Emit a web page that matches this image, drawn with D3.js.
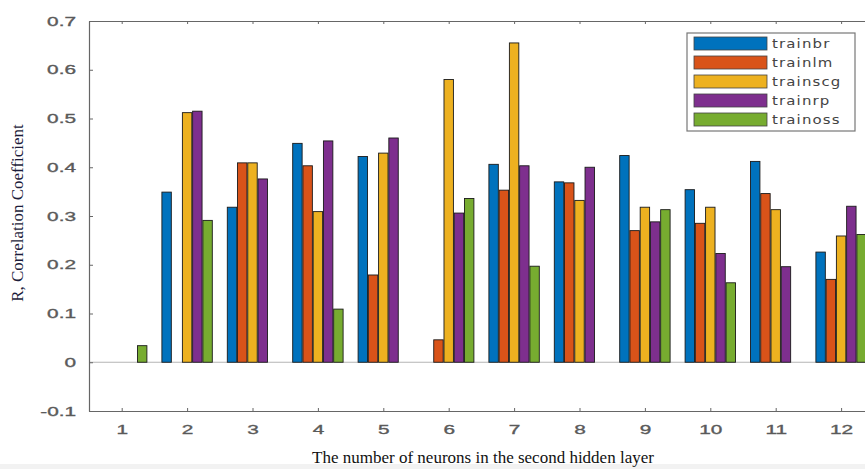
<!DOCTYPE html>
<html>
<head>
<meta charset="utf-8">
<script src="https://cdn.jsdelivr.net/npm/d3@7"></script>
<style>
  body { margin: 0; background: #fff; }
  svg { display: block; }
</style>
</head>
<body>
<div id="chart"></div>
<script>
// data
var neurons = [1, 2, 3, 4, 5, 6, 7, 8, 9, 10, 11, 12];
var series = ["trainbr", "trainlm", "trainscg", "trainrp", "trainoss"];
var trainbr  = [0,     0.349, 0.318, 0.449, 0.422, 0,     0.406, 0.370, 0.424, 0.354, 0.412, 0.226];
var trainlm  = [0,     0,     0.409, 0.403, 0.179, 0.046, 0.353, 0.368, 0.270, 0.285, 0.346, 0.170];
var trainscg = [0,     0.512, 0.409, 0.309, 0.429, 0.580, 0.655, 0.332, 0.318, 0.318, 0.313, 0.259];
var trainrp  = [0,     0.515, 0.376, 0.454, 0.460, 0.306, 0.403, 0.400, 0.288, 0.223, 0.196, 0.320];
var trainoss = [0.034, 0.291, 0,     0.109, 0,     0.336, 0.197, 0,     0.313, 0.163, 0,     0.262];
var yTicks = [-0.1, 0, 0.1, 0.2, 0.3, 0.4, 0.5, 0.6, 0.7];
var yTickLabels = ["-0.1", "0", "0.1", "0.2", "0.3", "0.4", "0.5", "0.6", "0.7"];
var colors = ["#0072BD", "#D95319", "#EDB120", "#7E2F8E", "#77AC30"];

var values = [trainbr, trainlm, trainscg, trainrp, trainoss];

var W = 865, H = 469;
var margin = { top: 21, left: 89, bottom: 58 };
var plotW = 12 * 65.4;   // extends past the right edge like the original
var plotH = H - margin.top - margin.bottom;
var stretch = 1.6;       // tick labels look horizontally stretched

var svg = d3.select("#chart").append("svg")
  .attr("width", W).attr("height", H);

// faint grey strip at the bottom of the picture
svg.append("rect").attr("x", 0).attr("y", 464).attr("width", W).attr("height", 5)
  .attr("fill", "#f2f2f2");

var g = svg.append("g")
  .attr("transform", "translate(" + margin.left + "," + margin.top + ")");

var x = d3.scaleLinear().domain([0.5, 12.5]).range([0, plotW]);
var y = d3.scaleLinear().domain([-0.1, 0.7]).range([plotH, 0]);

// offsets of the bars inside a group
var inner = d3.scaleBand().domain(series).range([-25.2, 25.2]).paddingInner(0.08);

// zero line
g.append("line")
  .attr("x1", 0).attr("x2", plotW)
  .attr("y1", y(0)).attr("y2", y(0))
  .attr("stroke", "#b5b5b5").attr("stroke-width", 1.2);

// bars
series.forEach(function (s, j) {
  g.append("g").selectAll("rect")
    .data(neurons)
    .enter().append("rect")
    .attr("x", function (d) { return x(d) + inner(s); })
    .attr("y", function (d, i) { return y(Math.max(0, values[j][i])); })
    .attr("width", inner.bandwidth())
    .attr("height", function (d, i) { return Math.abs(y(values[j][i]) - y(0)); })
    .attr("fill", colors[j])
    .attr("stroke", "#1a1a1a")
    .attr("stroke-width", 0.9);
});

// axes
var axisColor = "#666";
var xAxis = g.append("g")
  .attr("transform", "translate(0," + plotH + ")")
  .call(d3.axisBottom(x).tickValues(neurons).tickFormat(d3.format("d")).tickSizeInner(-3).tickSizeOuter(0).tickPadding(14));
var xTop = g.append("g")
  .call(d3.axisTop(x).tickValues(neurons).tickFormat("").tickSizeInner(-3).tickSizeOuter(0));
var yAxis = g.append("g")
  .call(d3.axisLeft(y).tickValues(yTicks).tickFormat(function (d, i) { return yTickLabels[i]; })
    .tickSizeInner(-4).tickSizeOuter(0).tickPadding(12));

[xAxis, xTop, yAxis].forEach(function (a) {
  a.select(".domain").attr("stroke", axisColor).attr("stroke-width", 1.2);
  a.selectAll(".tick line").attr("stroke", axisColor);
  a.selectAll("text")
    .attr("fill", "#5a5a5a")
    .attr("stroke", "#5a5a5a")
    .attr("stroke-width", 0.35)
    .style("font-family", "Liberation Sans, Arial, sans-serif")
    .style("font-size", "13px");
});
xAxis.selectAll(".tick text").attr("transform", "scale(" + stretch + ",1)");
yAxis.selectAll(".tick text")
  .attr("x", -13 / stretch)
  .attr("transform", "scale(" + stretch + ",1)");

// axis titles
svg.append("text")
  .attr("transform", "translate(23,213) rotate(-90)")
  .attr("text-anchor", "middle")
  .style("font-family", "Liberation Serif, Times New Roman, serif")
  .style("font-size", "17px")
  .attr("fill", "#1c1c3a")
  .text("R, Correlation Coefficient");

svg.append("text")
  .attr("x", 483).attr("y", 463)
  .attr("text-anchor", "middle")
  .style("font-family", "Liberation Serif, Times New Roman, serif")
  .style("font-size", "17px")
  .attr("fill", "#111")
  .text("The number of neurons in the second hidden layer");

// legend
var legend = svg.append("g").attr("transform", "translate(687,33)");
legend.append("rect")
  .attr("width", 168).attr("height", 98)
  .attr("fill", "#fff").attr("stroke", "#777").attr("stroke-width", 1.2);

var rows = legend.selectAll(".row")
  .data(series)
  .enter().append("g")
  .attr("transform", function (d, i) { return "translate(7," + (4 + i * 19) + ")"; });
rows.append("rect")
  .attr("width", 73).attr("height", 13)
  .attr("fill", function (d, i) { return colors[i]; })
  .attr("stroke", "#444").attr("stroke-width", 0.8);
rows.append("text")
  .attr("x", 78 / 1.15).attr("y", 11)
  .attr("transform", "scale(1.15,1)")
  .style("font-family", "DejaVu Sans, sans-serif")
  .style("font-size", "13px")
  .style("letter-spacing", "1px")
  .attr("fill", "#444")
  .text(function (d) { return d; });
</script>
</body>
</html>
